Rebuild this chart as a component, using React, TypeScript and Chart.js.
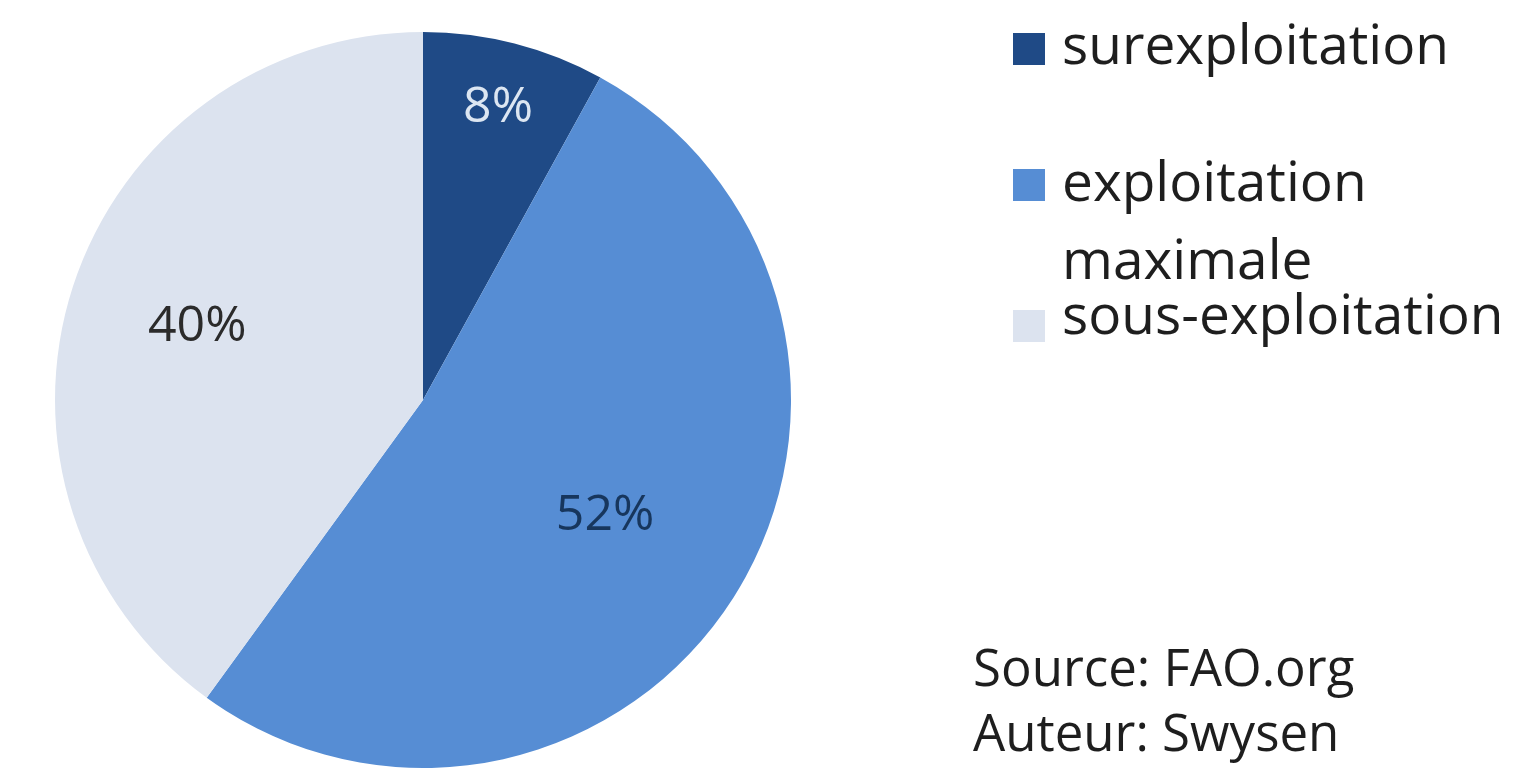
import React, { useEffect, useRef } from "react";
import { Chart, registerables } from "chart.js";

Chart.register(...registerables);

const categories = ["surexploitation", "exploitation maximale", "sous-exploitation"];
const legendLines = [["surexploitation"], ["exploitation", "maximale"], ["sous-exploitation"]];
const values = [8, 52, 40];
const sliceColors = ["#1F4A86", "#568DD4", "#DCE3EF"];
const labelColors = ["#DCE6F2", "#17365D", "#2B2B2B"];
const labelRadius = [0.82, 0.586, 0.645];
const notes = ["Source: FAO.org", "Auteur: Swysen"];

const FONT = "'Open Sans', 'DejaVu Sans', sans-serif";
const ASC = 1.069;

const labelPlugin = {
  id: "sliceLabels",
  afterDatasetsDraw(chart: any) {
    const ctx = chart.ctx;
    const meta = chart.getDatasetMeta(0);
    ctx.save();
    ctx.font = `50px ${FONT}`;
    ctx.textAlign = "center";
    ctx.textBaseline = "middle";
    meta.data.forEach((arc: any, i: number) => {
      const a = (arc.startAngle + arc.endAngle) / 2;
      const r = arc.outerRadius * labelRadius[i];
      const x = arc.x + Math.cos(a) * r;
      const y = arc.y + Math.sin(a) * r;
      ctx.fillStyle = labelColors[i];
      ctx.fillText(`${values[i]}%`, x, y);
    });
    ctx.restore();
  },
};

function Text({ text, left, baseline, size }: { text: string; left: number; baseline: number; size: number }) {
  return (
    <div
      style={{
        position: "absolute",
        left,
        top: baseline - ASC * size,
        fontFamily: FONT,
        fontSize: size,
        lineHeight: 1.362,
        color: "#1E1E1E",
        whiteSpace: "nowrap",
      }}
    >
      {text}
    </div>
  );
}

export default function App() {
  const ref = useRef<HTMLCanvasElement>(null);
  useEffect(() => {
    if (!ref.current) return;
    const chart = new Chart(ref.current, {
      type: "pie",
      data: {
        labels: categories,
        datasets: [
          {
            data: values,
            backgroundColor: sliceColors,
            borderWidth: 0,
          },
        ],
      },
      options: {
        animation: false,
        responsive: false,
        maintainAspectRatio: false,
        layout: { padding: { top: 32, bottom: 6, left: 55, right: 55 } },
        plugins: {
          legend: { display: false },
          tooltip: { enabled: false },
          title: { display: false },
        },
      },
      plugins: [labelPlugin],
    });
    return () => chart.destroy();
  }, []);

  const squareTops = [33, 169, 310];
  const baselines = [[65], [202, 280], [335]];

  return (
    <div style={{ position: "absolute", left: 0, top: 0, width: 1517, height: 774, overflow: "hidden", background: "#fff" }}>
      <canvas ref={ref} width={846} height={774} style={{ position: "absolute", left: 0, top: 0, width: 846, height: 774 }} />
      {categories.map((c, i) => (
        <React.Fragment key={c}>
          <div
            style={{
              position: "absolute",
              left: 1013,
              top: squareTops[i],
              width: 32,
              height: 32,
              background: sliceColors[i],
            }}
          />
          {legendLines[i].map((line, j) => (
            <Text key={line} text={line} left={1062} baseline={baselines[i][j]} size={55} />
          ))}
        </React.Fragment>
      ))}
      {notes.map((n, i) => (
        <Text key={n} text={n} left={973} baseline={[687, 752][i]} size={51} />
      ))}
    </div>
  );
}
